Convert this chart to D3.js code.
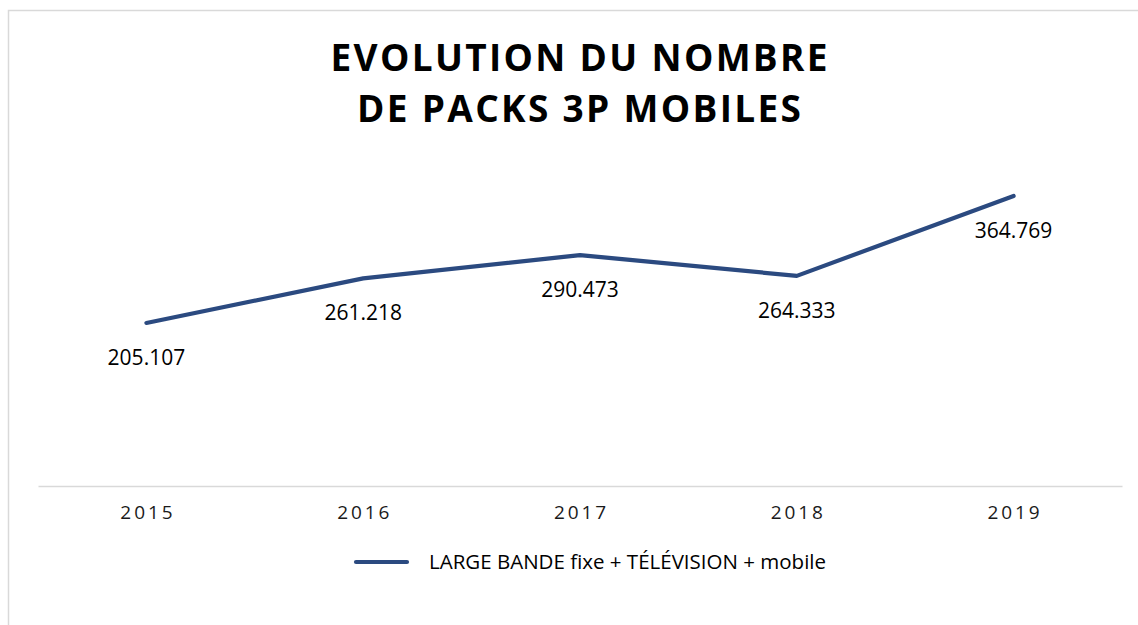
<!DOCTYPE html>
<html>
<head>
<meta charset="utf-8">
<script src="https://cdn.jsdelivr.net/npm/d3@7"></script>
<style>
  html, body { margin: 0; padding: 0; background: #fff; }
  svg text { font-family: "Open Sans", "Noto Sans", sans-serif; }
</style>
</head>
<body>
<div id="chart"></div>
<script>
// ---DATA---//
var years = ["2015", "2016", "2017", "2018", "2019"];
var packs = [205.107, 261.218, 290.473, 264.333, 364.769];
var labels = ["205.107", "261.218", "290.473", "264.333", "364.769"];
var titleLines = ["EVOLUTION DU NOMBRE", "DE PACKS 3P MOBILES"];
var seriesName = "LARGE BANDE fixe + TÉLÉVISION + mobile";

// ---LAYOUT---//
var width = 1138, height = 625;
var plot = { left: 38, right: 1122, top: 168, bottom: 486 };
var lineColor = "#2b4a80";
var gridColor = "#d9d9d9";

var svg = d3.select("#chart").append("svg")
  .attr("width", width).attr("height", height);

// chart frame
svg.append("rect")
  .attr("x", 8.5).attr("y", 10.5)
  .attr("width", 1300).attr("height", 800)
  .attr("fill", "#fff")
  .attr("stroke", gridColor).attr("stroke-width", 1.5);

// ---TITLE---//
var titleWidths = [497, 444];
var titleBase = [71, 122];
titleLines.forEach(function(line, i) {
  var t = svg.append("text")
    .attr("x", 579).attr("y", titleBase[i])
    .attr("text-anchor", "start")
    .attr("font-size", 37).attr("font-weight", 700)
    .attr("fill", "#000")
    .text(line);
  // fit the spaced-out caps to the measured width
  var natural = t.node().getComputedTextLength();
  var ls = (titleWidths[i] - natural) / (line.length - 1);
  t.attr("letter-spacing", ls);
  t.attr("x", 579 - titleWidths[i] / 2);
});

// ---SCALES---//
var x = d3.scaleBand().domain(years).range([plot.left, plot.right]).padding(0);
var y = d3.scaleLinear().domain([0, 400]).range([plot.bottom, plot.top]);
var cx = function(d) { return x(d) + x.bandwidth() / 2; };

// ---AXIS---//
var axis = svg.append("g")
  .attr("transform", "translate(0," + plot.bottom + ")")
  .call(d3.axisBottom(x).tickSizeInner(0).tickSizeOuter(0));
axis.select(".domain").attr("stroke", gridColor).attr("stroke-width", 1.5);
axis.selectAll(".tick text")
  .attr("y", 33).attr("dy", 0).attr("dx", 1.5)
  .attr("font-size", 19).attr("letter-spacing", 2.9)
  .attr("fill", "#1a1a1a")
  .style("font-family", "'Open Sans', sans-serif");

// ---LINE---//
var data = years.map(function(d, i) { return { year: d, value: packs[i], label: labels[i] }; });

svg.append("path")
  .datum(data)
  .attr("fill", "none")
  .attr("stroke", lineColor)
  .attr("stroke-width", 4.2)
  .attr("stroke-linecap", "round")
  .attr("stroke-linejoin", "round")
  .attr("d", d3.line()
    .x(function(d) { return cx(d.year); })
    .y(function(d) { return y(d.value); }));

// ---DATA LABELS---//
svg.selectAll(".valueLabel").data(data).enter().append("text")
  .attr("class", "valueLabel")
  .attr("x", function(d) { return cx(d.year); })
  .attr("y", function(d) { return y(d.value) + 42; })
  .attr("text-anchor", "middle")
  .attr("font-size", 21)
  .attr("fill", "#000")
  .text(function(d) { return d.label; });

// ---LEGEND---//
var legend = svg.append("g").attr("class", "legend");
legend.append("line")
  .attr("x1", 356).attr("x2", 407)
  .attr("y1", 562).attr("y2", 562)
  .attr("stroke", lineColor).attr("stroke-width", 4.2)
  .attr("stroke-linecap", "round");
legend.append("text")
  .attr("x", 429).attr("y", 569)
  .attr("font-size", 20.5)
  .attr("fill", "#000")
  .text(seriesName);
</script>
</body>
</html>
